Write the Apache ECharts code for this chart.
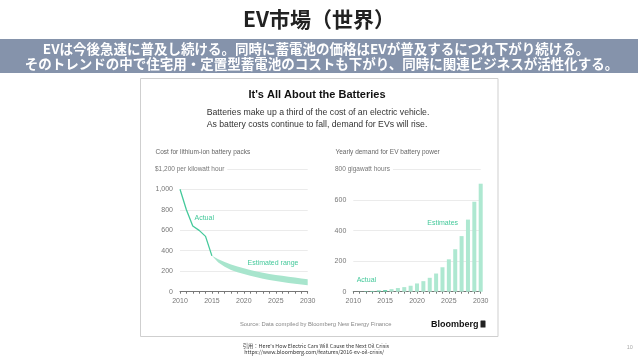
<!DOCTYPE html>
<html><head><meta charset="utf-8">
<script src="https://cdn.jsdelivr.net/npm/echarts@6/dist/echarts.min.js"></script>
<style>html,body{margin:0;padding:0;background:#fff}#c{width:638px;height:359px}</style>
</head><body><div id="c"></div>
<script>
// ---- data ----
var costYears = [2010, 2011, 2012, 2013, 2014, 2015];
var costActual = [1000, 800, 642, 599, 540, 350];
var estYears = [2015, 2016, 2017, 2018, 2019, 2020, 2021, 2022, 2023, 2024, 2025, 2026, 2027, 2028, 2029, 2030];
var estLower = [350, 285, 243, 212, 190, 172, 155, 140, 126, 114, 104, 94, 86, 78, 70, 63];
var estUpper = [350, 318, 290, 266, 246, 228, 212, 198, 185, 174, 164, 155, 146, 138, 130, 122];
var demandActualYears = [2010, 2011, 2012, 2013, 2014, 2015];
var demandActual = [0.5, 1, 3, 5, 8, 11];
var demandEstYears = [2016, 2017, 2018, 2019, 2020, 2021, 2022, 2023, 2024, 2025, 2026, 2027, 2028, 2029, 2030];
var demandEst = [17, 24, 30, 39, 54, 69, 91, 119, 160, 212, 278, 364, 472, 589, 707];
var xTicks = [2010, 2015, 2020, 2025, 2030];
var costTicks = [0, 200, 400, 600, 800, 1000];
var demandTicks = [0, 200, 400, 600];

var pairs = function (xs, ys) { return xs.map(function (x, i) { return [x, ys[i]]; }); };
var bandData = estYears.map(function (y, i) { return [y, estLower[i], estUpper[i]]; });

var GREEN = '#45c99b', LIGHT = '#a8e5cd';
var CHART_FONT = 'Liberation Sans';
var JP = 'Noto Sans CJK JP';

function xAxisCfg(gi) {
  return {
    type: 'value', gridIndex: gi, min: 2010, max: 2030, interval: 1,
    axisLine: { lineStyle: { color: '#777', width: 1 } },
    axisTick: { show: true, length: 2, lineStyle: { color: '#777' } },
    splitLine: { show: false },
    axisLabel: {
      color: '#777', fontSize: 7, fontFamily: CHART_FONT, margin: 6,
      formatter: function (v) { return xTicks.indexOf(v) >= 0 ? String(v) : ''; }
    }
  };
}
function yAxisCfg(gi, max, interval, ticks, fmt) {
  return {
    type: 'value', gridIndex: gi, min: 0, max: max, interval: interval,
    axisLine: { show: false }, axisTick: { show: false },
    splitLine: { lineStyle: { color: '#ebebeb', width: 1 } },
    axisLabel: {
      color: '#777', fontSize: 7, fontFamily: CHART_FONT, margin: 7,
      formatter: function (v) { return ticks.indexOf(v) >= 0 ? fmt(v) : ''; }
    }
  };
}

function renderBand(params, api) {
  if (params.dataIndex !== 0) return null;
  var upper = [], lower = [];
  for (var i = 0; i < bandData.length; i++) {
    upper.push(api.coord([bandData[i][0], bandData[i][2]]));
    lower.push(api.coord([bandData[i][0], bandData[i][1]]));
  }
  var pts = upper.concat(lower.reverse());
  return { type: 'polygon', shape: { points: pts }, style: { fill: LIGHT } };
}

var chart = echarts.init(document.getElementById('c'), null, { renderer: 'canvas' });
chart.setOption({
  animation: false,
  backgroundColor: '#fff',
  grid: [
    { left: 180, top: 168.8, width: 127.7, height: 122.9 },
    { left: 353.3, top: 169.5, width: 127.4, height: 122.2 }
  ],
  xAxis: [xAxisCfg(0), xAxisCfg(1)],
  yAxis: [
    yAxisCfg(0, 1200, 200, costTicks, function (v) { return v.toLocaleString('en-US'); }),
    yAxisCfg(1, 800, 200, demandTicks, function (v) { return String(v); })
  ],
  series: [
    { type: 'custom', xAxisIndex: 0, yAxisIndex: 0, data: bandData, renderItem: renderBand,
      encode: { x: 0, y: [1, 2] }, z: 2 },
    { type: 'line', xAxisIndex: 0, yAxisIndex: 0, data: pairs(costYears, costActual),
      symbol: 'none', lineStyle: { color: GREEN, width: 1.3 }, z: 3 },
    { type: 'bar', xAxisIndex: 1, yAxisIndex: 1, data: pairs(demandActualYears, demandActual),
      barWidth: 4, itemStyle: { color: '#6fd3ae' } },
    { type: 'bar', xAxisIndex: 1, yAxisIndex: 1, data: pairs(demandEstYears, demandEst),
      barWidth: 4, barGap: '-100%', itemStyle: { color: '#aee8d1' } }
  ],
  graphic: [
    { type: 'text', left: 'center', top: 9, style: { text: 'EV市場（世界）', font: 'bold 21px "' + JP + '"', fill: '#222' } },
    { type: 'rect', shape: { x: 0, y: 39, width: 638, height: 34 }, style: { fill: '#8593ab' }, z: -1 },
    { type: 'text', x: 316, y: 48.5, style: { text: 'EVは今後急速に普及し続ける。同時に蓄電池の価格はEVが普及するにつれ下がり続ける。', font: 'bold 13.5px "' + JP + '"', fill: '#fff', align: 'center', verticalAlign: 'middle' } },
    { type: 'text', x: 321.5, y: 64, style: { text: 'そのトレンドの中で住宅用・定置型蓄電池のコストも下がり、同時に関連ビジネスが活性化する。', font: 'bold 13.5px "' + JP + '"', fill: '#fff', align: 'center', verticalAlign: 'middle' } },
    { type: 'rect', shape: { x: 140.5, y: 78.5, width: 357.5, height: 258 }, style: { fill: 'rgba(0,0,0,0)', stroke: '#cfcfcf', lineWidth: 1 }, z: -1 },
    { type: 'text', x: 317, y: 94.5, style: { text: "It's All About the Batteries", font: 'bold 11px "' + CHART_FONT + '"', fill: '#111', align: 'center', verticalAlign: 'middle' } },
    { type: 'text', x: 318, y: 113, style: { text: 'Batteries make up a third of the cost of an electric vehicle.', font: '8.7px "' + CHART_FONT + '"', fill: '#333', align: 'center', verticalAlign: 'middle' } },
    { type: 'text', x: 317, y: 124.3, style: { text: 'As battery costs continue to fall, demand for EVs will rise.', font: '8.7px "' + CHART_FONT + '"', fill: '#333', align: 'center', verticalAlign: 'middle' } },
    { type: 'text', x: 155.5, y: 152.5, style: { text: 'Cost for lithium-ion battery packs', font: '6.5px "' + CHART_FONT + '"', fill: '#666', verticalAlign: 'middle' } },
    { type: 'text', x: 335.5, y: 152.5, style: { text: 'Yearly demand for EV battery power', font: '6.5px "' + CHART_FONT + '"', fill: '#666', verticalAlign: 'middle' } },
    { type: 'text', x: 155, y: 169.3, z: 10, style: { text: '$1,200 per kilowatt hour', font: '6.5px "' + CHART_FONT + '"', fill: '#777', verticalAlign: 'middle', backgroundColor: '#fff', padding: [1, 3, 1, 0] } },
    { type: 'text', x: 335, y: 169.5, z: 10, style: { text: '800 gigawatt hours', font: '6.5px "' + CHART_FONT + '"', fill: '#777', verticalAlign: 'middle', backgroundColor: '#fff', padding: [1, 3, 1, 0] } },
    { type: 'text', x: 194.5, y: 217.7, z: 10, style: { text: 'Actual', font: '7px "' + CHART_FONT + '"', fill: GREEN, verticalAlign: 'middle' } },
    { type: 'text', x: 247.5, y: 263.3, z: 10, style: { text: 'Estimated range', font: '7px "' + CHART_FONT + '"', fill: GREEN, verticalAlign: 'middle' } },
    { type: 'text', x: 356.7, y: 280, z: 10, style: { text: 'Actual', font: '7px "' + CHART_FONT + '"', fill: GREEN, verticalAlign: 'middle' } },
    { type: 'text', x: 427.3, y: 222.7, z: 10, style: { text: 'Estimates', font: '7px "' + CHART_FONT + '"', fill: GREEN, verticalAlign: 'middle' } },
    { type: 'text', x: 240, y: 324.3, style: { text: 'Source: Data compiled by Bloomberg New Energy Finance', font: '5.8px "' + CHART_FONT + '"', fill: '#888', verticalAlign: 'middle' } },
    { type: 'text', x: 431, y: 324.3, style: { text: 'Bloomberg', font: 'bold 9px "' + CHART_FONT + '"', fill: '#111', verticalAlign: 'middle' } },
    { type: 'rect', shape: { x: 480.5, y: 320.5, width: 5, height: 7, r: 0.5 }, style: { fill: '#222' } },
    { type: 'text', x: 242.7, y: 345.5, style: { text: '引用：Here\'s How Electric Cars Will Cause the Next Oil Crisis', font: '5.3px "' + JP + '"', fill: '#333', verticalAlign: 'middle' } },
    { type: 'text', x: 244.3, y: 351.7, style: { text: 'https://www.bloomberg.com/features/2016-ev-oil-crisis/', font: '5.3px "' + JP + '"', fill: '#333', verticalAlign: 'middle' } },
    { type: 'text', x: 626.7, y: 347.7, style: { text: '10', font: '5.5px "' + CHART_FONT + '"', fill: '#aaa', verticalAlign: 'middle' } }
  ]
});
</script></body></html>
